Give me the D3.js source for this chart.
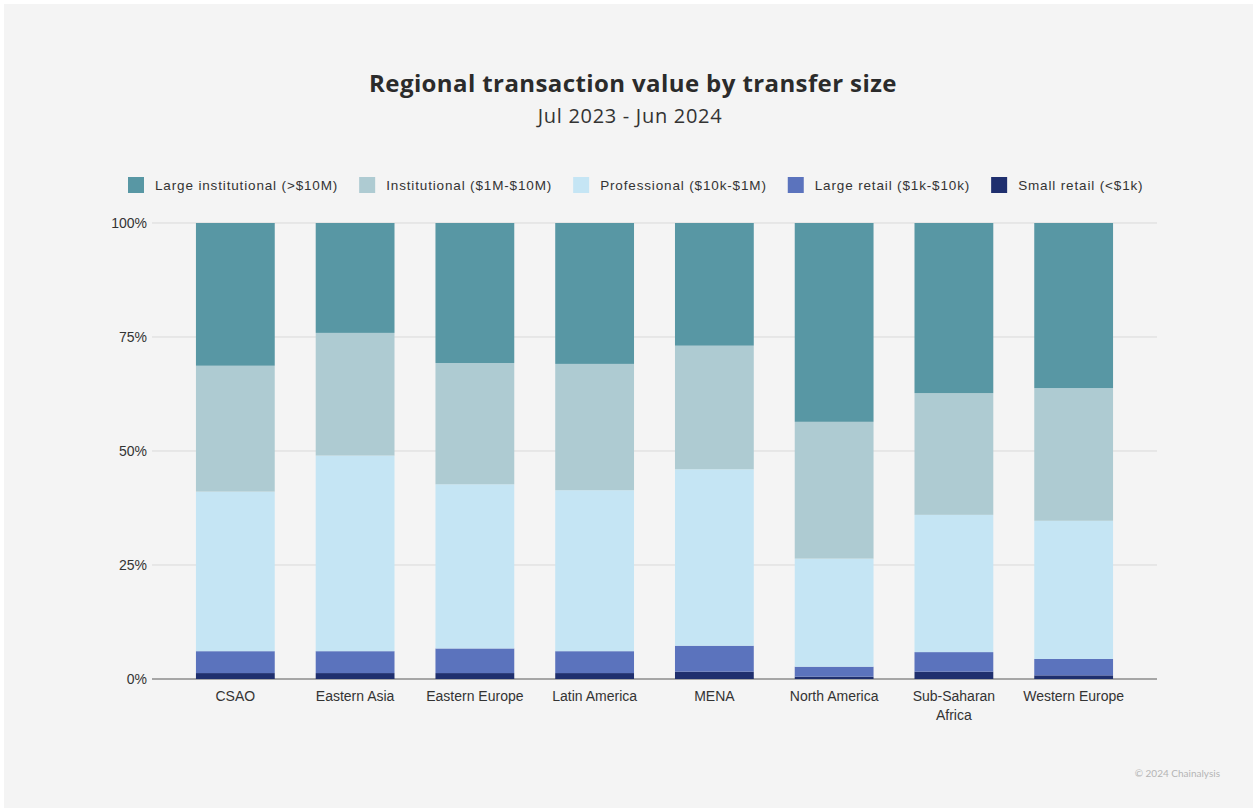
<!DOCTYPE html>
<html>
<head>
<meta charset="utf-8">
<script src="https://cdn.jsdelivr.net/npm/d3@7"></script>
<style>
  html, body { margin: 0; padding: 0; background: #ffffff; }
  #wrap { position: absolute; left: 4px; top: 4px; width: 1249px; height: 804px; background: #f4f4f4; }
  svg { display: block; }
</style>
</head>
<body>
<div id="wrap"><svg id="chart"></svg></div>
<script>
// regions (x axis)
var regions = ["CSAO", "Eastern Asia", "Eastern Europe", "Latin America", "MENA", "North America", "Sub-Saharan Africa", "Western Europe"];

// share of transaction value, %
var smallRetail     = [1.3, 1.3, 1.3, 1.3, 1.6, 0.5, 1.6, 0.8];
var largeRetail     = [4.8, 4.8, 5.4, 4.8, 5.7, 2.2, 4.3, 3.6];
var professional    = [35.0, 42.9, 36.0, 35.3, 38.7, 23.7, 30.1, 30.3];
var institutional   = [27.6, 26.9, 26.6, 27.7, 27.1, 30.0, 26.7, 29.1];
var largeInst       = [31.3, 24.1, 30.7, 30.9, 26.9, 43.6, 37.3, 36.2];

var seriesNames = ["Small retail (<$1k)", "Large retail ($1k-$10k)", "Professional ($10k-$1M)", "Institutional ($1M-$10M)", "Large institutional (>$10M)"];
var seriesVals = [smallRetail, largeRetail, professional, institutional, largeInst];
var colors = ["#1f2f6e", "#5b73bd", "#c5e5f4", "#aecbd2", "#5897a4"];

var yTicks = [0, 25, 50, 75, 100];

var W = 1249, H = 804;
var svg = d3.select("#chart").attr("width", W).attr("height", H);

// title
svg.append("text")
  .attr("x", 629).attr("y", 88)
  .attr("text-anchor", "middle")
  .style("font-family", "'Open Sans', Lato, sans-serif")
  .style("font-weight", "bold")
  .style("font-size", "24px")
  .style("letter-spacing", "0.4px")
  .style("fill", "#2b2b2b")
  .text("Regional transaction value by transfer size");

svg.append("text")
  .attr("x", 626).attr("y", 119)
  .attr("text-anchor", "middle")
  .style("font-family", "'Open Sans', Lato, sans-serif")
  .style("font-size", "20px")
  .style("letter-spacing", "0.7px")
  .style("fill", "#333")
  .text("Jul 2023 - Jun 2024");

// build table for stack
var table = regions.map(function(r, i) {
  var row = { region: r };
  seriesNames.forEach(function(s, j) { row[s] = seriesVals[j][i]; });
  return row;
});

var stack = d3.stack().keys(seriesNames);
var layers = stack(table);

var x = d3.scaleBand()
  .domain(regions)
  .range([148, 1153])
  .paddingInner(0.342)
  .paddingOuter(0.367);

var y = d3.scaleLinear()
  .domain([0, 100])
  .range([675, 219]);

// gridlines
var grid = svg.append("g");
grid.selectAll("line")
  .data(yTicks)
  .enter().append("line")
  .attr("x1", 148).attr("x2", 1153)
  .attr("y1", function(d) { return y(d); })
  .attr("y2", function(d) { return y(d); })
  .style("stroke", function(d) { return d === 0 ? "#8c8c8c" : "#d9d9d9"; })
  .style("stroke-width", function(d) { return d === 0 ? 1.5 : 1; });

// y labels
svg.append("g").selectAll("text")
  .data(yTicks)
  .enter().append("text")
  .attr("x", 143)
  .attr("y", function(d) { return y(d) + 5; })
  .attr("text-anchor", "end")
  .style("font-family", "'Liberation Sans', Arial, sans-serif")
  .style("font-size", "14px")
  .style("fill", "#333")
  .text(function(d) { return d + "%"; });

// bars
svg.append("g").selectAll("g")
  .data(layers)
  .enter().append("g")
  .attr("fill", function(d, i) { return colors[i]; })
  .selectAll("rect")
  .data(function(d) { return d; })
  .enter().append("rect")
  .attr("x", function(d) { return x(d.data.region); })
  .attr("width", x.bandwidth())
  .attr("y", function(d) { return y(d[1]); })
  .attr("height", function(d) { return y(d[0]) - y(d[1]); });

// x labels (wrap long ones)
var xl = svg.append("g").selectAll("text")
  .data(regions)
  .enter().append("text")
  .attr("x", function(d) { return x(d) + x.bandwidth() / 2; })
  .attr("y", 697)
  .attr("text-anchor", "middle")
  .style("font-family", "'Liberation Sans', Arial, sans-serif")
  .style("font-size", "14px")
  .style("fill", "#333");
xl.each(function(d) {
  var lines = d === "Sub-Saharan Africa" ? ["Sub-Saharan", "Africa"] : [d];
  var t = d3.select(this);
  lines.forEach(function(l, i) {
    t.append("tspan")
      .attr("x", x(d) + x.bandwidth() / 2)
      .attr("dy", i === 0 ? 0 : 19)
      .text(l);
  });
});

// legend, order as in picture
var legendOrder = [4, 3, 2, 1, 0];
var legend = svg.append("g");
var lx = 124;
legendOrder.forEach(function(k) {
  var g = legend.append("g").attr("transform", "translate(" + lx + ",173)");
  g.append("rect").attr("width", 16).attr("height", 16).attr("fill", colors[k]);
  var t = g.append("text")
    .attr("x", 27).attr("y", 13)
    .style("font-family", "'Liberation Sans', Arial, sans-serif")
    .style("font-size", "13.5px")
    .style("letter-spacing", "0.85px")
    .style("fill", "#333")
    .text(seriesNames[k]);
  lx += 27 + t.node().getComputedTextLength() + 21;
});

// footer
svg.append("text")
  .attr("x", 1216).attr("y", 773)
  .attr("text-anchor", "end")
  .style("font-family", "Lato, 'Open Sans', sans-serif")
  .style("font-size", "10px")
  .style("fill", "#b5b5b5")
  .text("© 2024 Chainalysis");
</script>
</body>
</html>
